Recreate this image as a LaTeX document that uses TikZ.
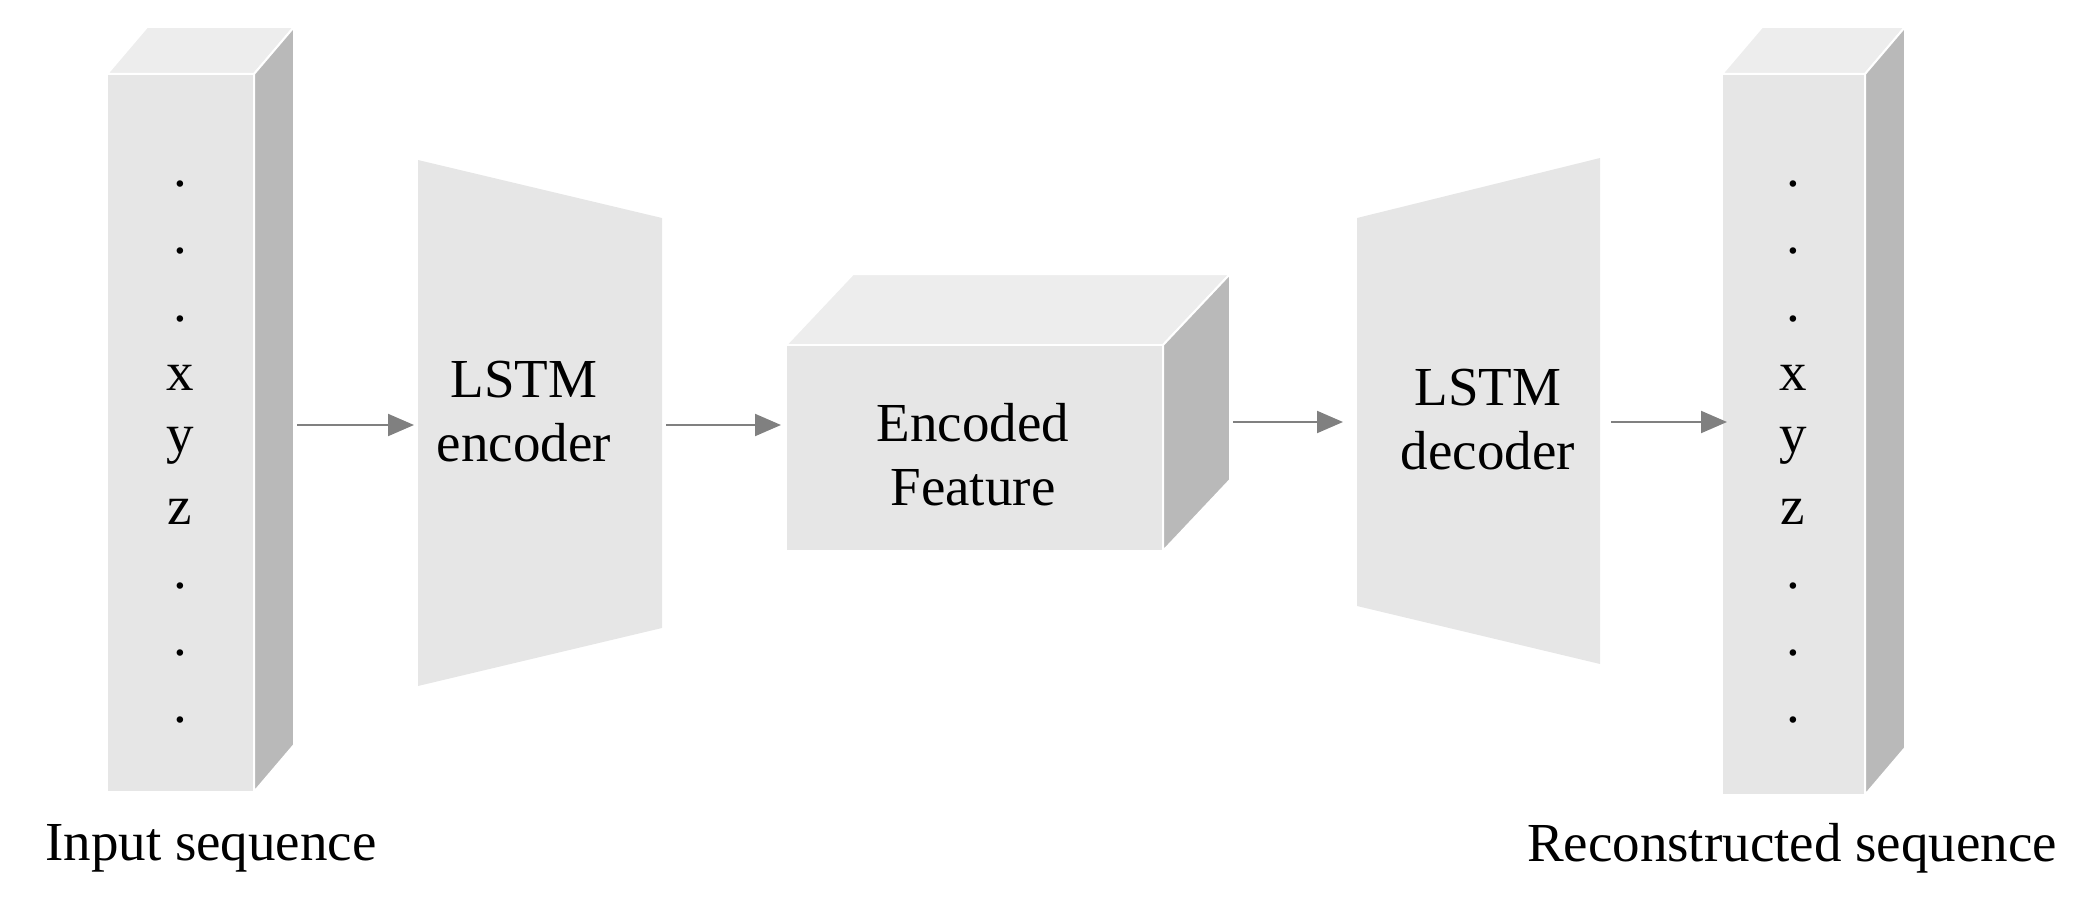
\documentclass[tikz,border=0pt]{standalone}
\usepackage{fontspec}
\setmainfont{Liberation Serif}
\usetikzlibrary{arrows.meta}
\definecolor{face}{HTML}{E6E6E6}
\definecolor{topc}{HTML}{EDEDED}
\definecolor{side}{HTML}{B9B9B9}
\definecolor{arr}{HTML}{808080}
\begin{document}
\begin{tikzpicture}[x=1pt,y=-1pt,
  fr/.style={fill=face,draw=white,line width=2pt},
  tp/.style={fill=topc,draw=white,line width=2pt},
  sd/.style={fill=side,draw=white,line width=2pt},
  conn/.style={draw=arr,line width=2pt,-{Triangle[length=26pt,width=22pt]}},
  txt/.style={font=\fontsize{55}{64}\selectfont,inner sep=0pt},
  ch/.style={txt,anchor=base}]
\useasboundingbox (0,0) rectangle (2096,904);
% input column
\draw[tp] (107,74) -- (147,27) -- (294,27) -- (254,74) -- cycle;
\draw[sd] (254,74) -- (294,27) -- (294,745) -- (254,792) -- cycle;
\draw[fr] (107,74) rectangle (254,792);
\node[ch] (i1) at (180,187) {.};
\node[ch] (i2) at (180,254) {.};
\node[ch] (i3) at (180,321) {.};
\node[ch] (ix) at (180,390) {x};
\node[ch] (iy) at (180,452) {y};
\node[ch] (iz) at (180,524) {z};
\node[ch] (i7) at (180,588) {.};
\node[ch] (i8) at (180,655) {.};
\node[ch] (i9) at (180,722) {.};
\coordinate (inR) at (297,425);
% encoder
\path[fill=face] (418,160) -- (662,218) -- (662,628) -- (418,686) -- cycle;
\node[txt,align=center] (enc) at (524,412) {LSTM\\encoder};
\coordinate (encL) at (414,425);
\coordinate (encR) at (666,425);
% encoded feature
\draw[tp] (786,345) -- (853,274) -- (1230,274) -- (1163,345) -- cycle;
\draw[sd] (1163,345) -- (1230,274) -- (1230,480) -- (1163,551) -- cycle;
\draw[fr] (786,345) rectangle (1163,551);
\node[txt,align=center] (feat) at (973,455) {Encoded\\Feature};
\coordinate (featL) at (781,425);
\coordinate (featR) at (1233,422);
% decoder
\path[fill=face] (1357,218) -- (1600,158) -- (1600,664) -- (1357,606) -- cycle;
\node[txt,align=center] (dec) at (1488,420) {LSTM\\decoder};
\coordinate (decL) at (1343,422);
\coordinate (decR) at (1611,422);
% output column
\draw[tp] (1722,74) -- (1762,27) -- (1905,27) -- (1865,74) -- cycle;
\draw[sd] (1865,74) -- (1905,27) -- (1905,748) -- (1865,795) -- cycle;
\draw[fr] (1722,74) rectangle (1865,795);
\node[ch] (o1) at (1793,187) {.};
\node[ch] (o2) at (1793,254) {.};
\node[ch] (o3) at (1793,321) {.};
\node[ch] (ox) at (1793,390) {x};
\node[ch] (oy) at (1793,452) {y};
\node[ch] (oz) at (1793,524) {z};
\node[ch] (o7) at (1793,588) {.};
\node[ch] (o8) at (1793,655) {.};
\node[ch] (o9) at (1793,722) {.};
\coordinate (outL) at (1727,422);
% labels
\node[txt] (lin) at (211,848) {Input sequence};
\node[txt] (lout) at (1792,848) {Reconstructed sequence};
% connectors
\draw[conn] (inR) -- (encL);
\draw[conn] (encR) -- (featL);
\draw[conn] (featR) -- (decL);
\draw[conn] (decR) -- (outL);
\end{tikzpicture}
\end{document}
